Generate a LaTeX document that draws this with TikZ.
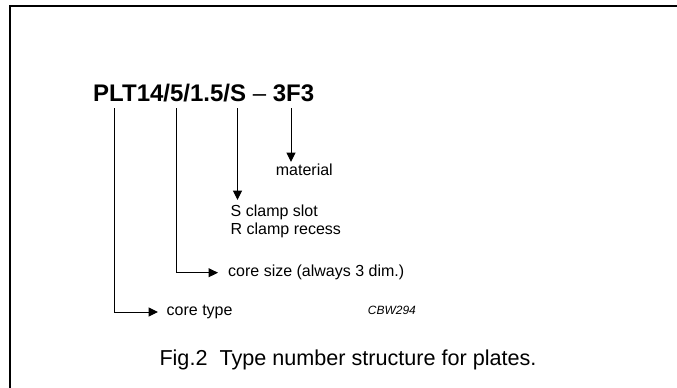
\documentclass[tikz,border=0pt]{standalone}
\usepackage{fontspec}
\setmainfont{Liberation Sans}
\usetikzlibrary{arrows.meta}
\begin{document}
\begin{tikzpicture}[x=1pt,y=-1pt,
  frameline/.style={line width=2.2pt},
  leader/.style={line width=1pt,-{Triangle[length=9.5pt,width=9pt]}},
  lbl/.style={font=\fontsize{16}{18.3}\selectfont,inner sep=0pt,anchor=base west,align=left},
  ttl/.style={font=\fontsize{24}{28}\selectfont\bfseries,inner sep=0pt,anchor=base west},
  figcap/.style={font=\fontsize{21.6}{26}\selectfont,inner sep=0pt,anchor=base west},
  codelbl/.style={font=\fontsize{12}{14}\selectfont\itshape,inner sep=0pt,anchor=base west}]
\useasboundingbox (0,0) rectangle (677,388);
% frame (top and left edges)
\draw[frameline] (10,388) -- (10,6) -- (677,6);
% title
\node[ttl] (title) at (93,101) {PLT14/5/1.5/S {\mdseries –} 3F3};
% tops of leaders
\coordinate (t1) at (114.4,108);
\coordinate (t2) at (176,108);
\coordinate (t3) at (237.5,108);
\coordinate (t4) at (291,108);
\coordinate (a3) at (237.5,200);
\coordinate (a4) at (291,162);
% labels
\node[lbl] (mat) at (275.7,175.3) {material};
\node[lbl,anchor=north west] (sr) at (230.5,204.5) {S clamp slot\\R clamp recess};
\node[lbl,anchor=west,inner xsep=0pt] (cs) at (218,272.7) {\hspace{10pt}core size (always 3 dim.)};
\node[lbl,anchor=west,inner xsep=0pt] (ct) at (158,312) {\hspace{8.5pt}core type};
\node[codelbl] (cbw) at (367.7,314) {CBW294};
\node[figcap] (fig) at (159.3,365) {Fig.2\ \ Type number structure for plates.};
% leaders
\draw[leader] (t4) -- (a4);
\draw[leader] (t3) -- (a3);
\draw[leader] (t2) |- (cs.west);
\draw[leader] (t1) |- (ct.west);
\end{tikzpicture}
\end{document}
